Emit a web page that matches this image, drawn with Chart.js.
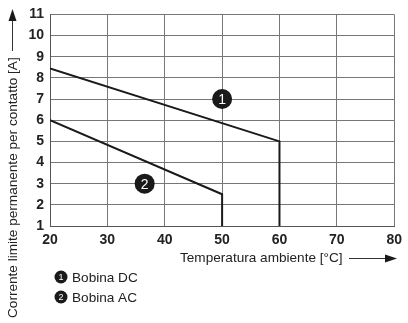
<!DOCTYPE html>
<html>
<head>
<meta charset="utf-8">
<script src="https://cdn.jsdelivr.net/npm/chart.js@4.4.1/dist/chart.umd.min.js"></script>
<style>
  html, body { margin: 0; padding: 0; background: #fff; }
  #wrap { width: 408px; height: 323px; }
</style>
</head>
<body>
<div id="wrap"><canvas id="myChart" width="408" height="323"></canvas></div>
<script>
// curve data
var dcTemp = [20, 60, 60];
var dcCurrent = [8.45, 5.0, 1];
var acTemp = [20, 50, 50];
var acCurrent = [6.0, 2.5, 1];

// numbered markers placed on the plot (data coords)
var markerLabels = ['1', '2'];
var markerX = [50, 36.5];
var markerY = [7, 3];

var legendLabels = ['Bobina DC', 'Bobina AC'];
var xTitle = 'Temperatura ambiente [°C]';
var yTitle = 'Corrente limite permanente per contatto [A]';

function toPoints(xs, ys) {
    var pts = [];
    for (var i = 0; i < xs.length; i++) pts.push({x: xs[i], y: ys[i]});
    return pts;
}

function drawBadge(ctx, x, y, r, txt, fs) {
    ctx.beginPath();
    ctx.arc(x, y, r, 0, Math.PI * 2);
    ctx.fillStyle = '#1a1a1a';
    ctx.fill();
    ctx.fillStyle = '#fff';
    ctx.font = fs + 'px "Liberation Sans", Arial, sans-serif';
    ctx.textAlign = 'center';
    ctx.textBaseline = 'middle';
    ctx.fillText(txt, x, y + 1);
}

function arrowHead(ctx, x, y, dir) {
    ctx.beginPath();
    if (dir == 'up') {
        ctx.moveTo(x, y);
        ctx.lineTo(x - 4, y + 12);
        ctx.lineTo(x + 4, y + 12);
    } else {
        ctx.moveTo(x, y);
        ctx.lineTo(x - 12, y - 4);
        ctx.lineTo(x - 12, y + 4);
    }
    ctx.closePath();
    ctx.fillStyle = '#1a1a1a';
    ctx.fill();
}

var extras = {
    id: 'extras',
    afterDraw: function(chart) {
        var ctx = chart.ctx;
        var xs = chart.scales.x, ys = chart.scales.y;
        ctx.save();

        // markers on the curves
        for (var i = 0; i < markerLabels.length; i++) {
            drawBadge(ctx, xs.getPixelForValue(markerX[i]), ys.getPixelForValue(markerY[i]), 10, markerLabels[i], 14);
        }

        // x title + arrow
        ctx.fillStyle = '#222';
        ctx.font = '13.6px "Liberation Sans", Arial, sans-serif';
        ctx.textAlign = 'left';
        ctx.textBaseline = 'middle';
        ctx.fillText(xTitle, 180, 258);
        ctx.strokeStyle = '#333';
        ctx.lineWidth = 1;
        ctx.beginPath();
        ctx.moveTo(349, 258.5);
        ctx.lineTo(386, 258.5);
        ctx.stroke();
        arrowHead(ctx, 397, 258.5, 'right');

        // y title + arrow
        ctx.save();
        ctx.translate(13, 318);
        ctx.rotate(-Math.PI / 2);
        ctx.fillStyle = '#222';
        ctx.textAlign = 'left';
        ctx.fillText(yTitle, 0, 0);
        ctx.restore();
        ctx.beginPath();
        ctx.moveTo(12.5, 51);
        ctx.lineTo(12.5, 20);
        ctx.stroke();
        arrowHead(ctx, 12.5, 9, 'up');

        // legend
        for (var j = 0; j < legendLabels.length; j++) {
            var ly = 277 + j * 20;
            drawBadge(ctx, 61, ly, 6.5, markerLabels[j], 9);
            ctx.fillStyle = '#222';
            ctx.font = '13.6px "Liberation Sans", Arial, sans-serif';
            ctx.textAlign = 'left';
            ctx.textBaseline = 'middle';
            ctx.fillText(legendLabels[j], 72, ly + 1);
        }
        ctx.restore();
    }
};

var tickFont = {family: '"Liberation Sans", Arial, sans-serif', size: 14, weight: 'bold'};

var myChart = new Chart(document.getElementById('myChart').getContext('2d'), {
    type: 'line',
    data: {
        datasets: [{
            label: legendLabels[0],
            data: toPoints(dcTemp, dcCurrent),
            borderColor: '#1a1a1a',
            borderWidth: 2,
            pointRadius: 0,
            tension: 0
        }, {
            label: legendLabels[1],
            data: toPoints(acTemp, acCurrent),
            borderColor: '#1a1a1a',
            borderWidth: 2,
            pointRadius: 0,
            tension: 0
        }]
    },
    options: {
        responsive: false,
        animation: false,
        layout: {padding: {left: 0, right: 13, top: 8, bottom: 0}},
        plugins: {legend: {display: false}, tooltip: {enabled: false}},
        scales: {
            x: {
                type: 'linear',
                min: 20,
                max: 80,
                ticks: {stepSize: 10, color: '#222', font: tickFont, padding: 6},
                grid: {color: '#777', lineWidth: 1, drawTicks: false},
                border: {color: '#555'},
                afterFit: function(s) { s.height = 97; }
            },
            y: {
                min: 1,
                max: 11,
                ticks: {stepSize: 1, color: '#222', font: tickFont, padding: 6},
                grid: {color: '#777', lineWidth: 1, drawTicks: false},
                border: {color: '#555'},
                afterFit: function(s) { s.width = 50; }
            }
        }
    },
    plugins: [extras]
});
</script>
</body>
</html>
